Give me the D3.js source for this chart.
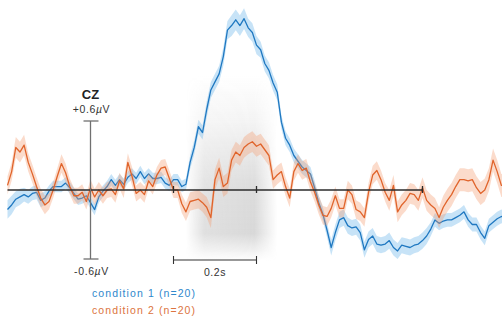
<!DOCTYPE html>
<html>
<head>
<meta charset="utf-8">
<script src="https://cdn.jsdelivr.net/npm/d3@7"></script>
<style>
  html, body { margin: 0; padding: 0; background: #fff; }
  svg { display: block; font-family: "Liberation Sans", Arial, sans-serif; }
</style>
</head>
<body>
<svg id="chart" width="502" height="324"></svg>
<script>
// ERP at electrode CZ, grand average (µV), one sample every 10 ms from -0.4 s
const tStart = -0.4;
const tStep = 0.01;

const cond1 = [
  -0.17, -0.13, -0.08, -0.06, -0.04, -0.06, -0.03, -0.02, -0.09, -0.07,
  -0.01, 0.03, 0.03, 0.03, 0.06, 0.02, -0.03, -0.08, -0.07, -0.05,
  -0.11, -0.17, -0.06, -0.01, 0.03, 0.09, 0.04, 0.09, 0.05, 0.11,
  0.14, 0.10, 0.16, 0.10, 0.14, 0.10, 0.10, 0.11, 0.06, 0.04,
  0.09, 0.09, 0.03, 0.05, 0.24, 0.37, 0.55, 0.50, 0.70, 0.87,
  0.94, 1.01, 1.16, 1.39, 1.43, 1.48, 1.43, 1.49, 1.41, 1.37,
  1.26, 1.22, 1.10, 1.04, 0.93, 0.85, 0.59, 0.45, 0.39, 0.30,
  0.25, 0.20, 0.17, 0.14, 0.02, -0.11, -0.21, -0.35, -0.50, -0.37,
  -0.26, -0.24, -0.31, -0.33, -0.32, -0.37, -0.52, -0.43, -0.40, -0.47,
  -0.48, -0.47, -0.44, -0.50, -0.53, -0.48, -0.49, -0.50, -0.48, -0.47,
  -0.44, -0.40, -0.34, -0.26, -0.29, -0.27, -0.26, -0.26, -0.24, -0.22,
  -0.19, -0.26, -0.30, -0.30, -0.37, -0.42, -0.31, -0.28, -0.25, -0.23,
  -0.24
];
const cond1Sem = [
  0.08, 0.08, 0.07, 0.07, 0.06, 0.06, 0.06, 0.06, 0.06, 0.06,
  0.05, 0.05, 0.05, 0.05, 0.05, 0.05, 0.05, 0.05, 0.05, 0.05,
  0.05, 0.05, 0.05, 0.05, 0.05, 0.05, 0.05, 0.05, 0.05, 0.05,
  0.05, 0.05, 0.05, 0.05, 0.05, 0.05, 0.05, 0.05, 0.05, 0.05,
  0.05, 0.05, 0.05, 0.05, 0.06, 0.06, 0.06, 0.06, 0.07, 0.07,
  0.07, 0.07, 0.08, 0.08, 0.09, 0.09, 0.09, 0.09, 0.08, 0.08,
  0.08, 0.07, 0.07, 0.07, 0.07, 0.07, 0.06, 0.06, 0.06, 0.06,
  0.06, 0.06, 0.06, 0.06, 0.06, 0.06, 0.06, 0.06, 0.07, 0.07,
  0.07, 0.07, 0.07, 0.07, 0.07, 0.07, 0.07, 0.07, 0.07, 0.07,
  0.07, 0.07, 0.07, 0.07, 0.07, 0.07, 0.07, 0.07, 0.07, 0.07,
  0.07, 0.07, 0.06, 0.06, 0.06, 0.06, 0.06, 0.06, 0.06, 0.06,
  0.06, 0.06, 0.06, 0.06, 0.06, 0.06, 0.06, 0.06, 0.06, 0.06,
  0.06
];
const cond2 = [
  0.04, 0.16, 0.37, 0.33, 0.39, 0.24, 0.14, 0.03, -0.07, -0.13,
  -0.10, 0.00, 0.12, 0.23, 0.15, 0.03, -0.05, -0.05, -0.02, -0.10,
  0.02, -0.06, 0.00, -0.05, 0.00, 0.01, -0.04, 0.08, 0.01, 0.24,
  0.12, -0.03, 0.00, -0.04, 0.08, 0.03, 0.13, 0.19, 0.20, 0.10,
  0.00, 0.00, -0.12, -0.19, -0.10, -0.09, -0.08, -0.11, -0.15, -0.24,
  0.09, 0.19, 0.03, 0.06, 0.26, 0.33, 0.30, 0.37, 0.40, 0.42,
  0.38, 0.40, 0.35, 0.30, 0.09, 0.13, 0.16, 0.03, -0.07, 0.16,
  0.23, 0.17, 0.19, 0.07, -0.02, -0.13, -0.22, -0.23, -0.16, -0.05,
  -0.16, -0.16, 0.00, -0.04, -0.17, -0.19, -0.24, -0.02, 0.13, 0.17,
  0.09, -0.02, -0.09, 0.04, -0.19, -0.13, -0.09, -0.03, -0.04, -0.09,
  0.02, -0.09, -0.13, -0.16, -0.24, -0.15, -0.09, -0.04, 0.03, 0.09,
  0.09, 0.08, 0.09, 0.02, -0.03, 0.00, 0.09, 0.26, 0.16, 0.04,
  0.04
];
const cond2Sem = [
  0.08, 0.08, 0.09, 0.09, 0.09, 0.08, 0.08, 0.08, 0.08, 0.08,
  0.07, 0.07, 0.07, 0.08, 0.08, 0.07, 0.07, 0.07, 0.07, 0.07,
  0.07, 0.07, 0.07, 0.07, 0.07, 0.07, 0.07, 0.07, 0.08, 0.08,
  0.08, 0.07, 0.07, 0.07, 0.07, 0.07, 0.07, 0.07, 0.07, 0.07,
  0.07, 0.07, 0.08, 0.08, 0.08, 0.08, 0.08, 0.08, 0.09, 0.09,
  0.09, 0.09, 0.09, 0.09, 0.09, 0.09, 0.09, 0.09, 0.09, 0.09,
  0.09, 0.09, 0.09, 0.09, 0.08, 0.08, 0.08, 0.08, 0.08, 0.08,
  0.08, 0.08, 0.08, 0.08, 0.08, 0.08, 0.08, 0.08, 0.08, 0.08,
  0.08, 0.08, 0.08, 0.08, 0.08, 0.08, 0.08, 0.08, 0.08, 0.08,
  0.08, 0.08, 0.09, 0.09, 0.09, 0.09, 0.09, 0.09, 0.09, 0.09,
  0.09, 0.09, 0.09, 0.09, 0.09, 0.10, 0.10, 0.10, 0.10, 0.10,
  0.10, 0.10, 0.10, 0.10, 0.10, 0.10, 0.10, 0.10, 0.10, 0.10,
  0.10
];

const sigWindow = [0.03, 0.25];     // shaded cluster (s)
const timeTicks = [0, 0.2, 0.6];
const ampTicks = [0.6, -0.6];
const scaleBar = [0, 0.2];
const channel = "CZ";
const legendLabels = ["condition 1 (n=20)", "condition 2 (n=20)"];

const colors = {
  line: ["#1f78c1", "#e0642b"],
  band: ["#63b2ea", "#f39a70"],
  text: ["#2f88cc", "#dc7440"]
};

const times = cond1.map((_, i) => tStart + i * tStep);
const series = [
  { mean: cond1, sem: cond1Sem },
  { mean: cond2, sem: cond2Sem }
];

const svg = d3.select("#chart");
const x = d3.scaleLinear().domain([-0.4, 0.8]).range([7.5, 505.5]);
const y = d3.scaleLinear().domain([-0.6, 0.6]).range([259, 121]);
const axisX = x(-0.2);

// gray shading for the significant window
const defs = svg.append("defs");
const gv = defs.append("linearGradient").attr("id", "sig-v")
  .attr("x1", 0).attr("y1", 0).attr("x2", 0).attr("y2", 1);
[[0, 0], [0.25, 0.1], [0.6, 0.3], [0.85, 0.33], [1, 0]].forEach(([o, a]) => {
  gv.append("stop").attr("offset", o).attr("stop-color", "#8a8a8a").attr("stop-opacity", a);
});
const gh = defs.append("linearGradient").attr("id", "sig-h")
  .attr("x1", 0).attr("y1", 0).attr("x2", 1).attr("y2", 0);
[[0, 0], [0.2, 0.8], [0.75, 1], [1, 0]].forEach(([o, a]) => {
  gh.append("stop").attr("offset", o).attr("stop-color", "#fff").attr("stop-opacity", a);
});
const sx0 = x(sigWindow[0]), sx1 = x(sigWindow[1]);
const sy0 = y(1.0), sy1 = y(-0.62);
defs.append("mask").attr("id", "sig-mask")
  .attr("maskUnits", "userSpaceOnUse")
  .append("rect")
  .attr("x", sx0).attr("y", sy0).attr("width", sx1 - sx0).attr("height", sy1 - sy0)
  .attr("fill", "url(#sig-h)");
svg.append("rect")
  .attr("x", sx0).attr("y", sy0).attr("width", sx1 - sx0).attr("height", sy1 - sy0)
  .attr("fill", "url(#sig-v)")
  .attr("mask", "url(#sig-mask)");

// bands + mean lines
series.forEach((s, k) => {
  const area = d3.area()
    .x((d, i) => x(times[i]))
    .y0((d, i) => y(d - s.sem[i]))
    .y1((d, i) => y(d + s.sem[i]));
  svg.append("path")
    .datum(s.mean)
    .attr("d", area)
    .attr("fill", colors.band[k])
    .attr("fill-opacity", 0.36);

  const line = d3.line()
    .x((d, i) => x(times[i]))
    .y((d) => y(d));
  svg.append("path")
    .datum(s.mean)
    .attr("d", line)
    .attr("fill", "none")
    .attr("stroke", colors.line[k])
    .attr("stroke-width", 1.3)
    .attr("stroke-linejoin", "round");
});

// zero line with time ticks
svg.append("line")
  .attr("x1", x(tStart)).attr("x2", x(0.6))
  .attr("y1", y(0)).attr("y2", y(0))
  .attr("stroke", "#2b2b2b").attr("stroke-width", 1.5);
timeTicks.forEach((t) => {
  svg.append("line")
    .attr("x1", x(t)).attr("x2", x(t))
    .attr("y1", y(0) - 4).attr("y2", y(0) + 3)
    .attr("stroke", "#2b2b2b").attr("stroke-width", 1.3);
});

// amplitude axis
svg.append("line")
  .attr("x1", axisX).attr("x2", axisX)
  .attr("y1", y(ampTicks[0])).attr("y2", y(ampTicks[1]))
  .attr("stroke", "#707070").attr("stroke-width", 1.3);
ampTicks.forEach((v) => {
  svg.append("line")
    .attr("x1", axisX - 7).attr("x2", axisX + 8)
    .attr("y1", y(v)).attr("y2", y(v))
    .attr("stroke", "#707070").attr("stroke-width", 1.3);
  const lbl = svg.append("text")
    .attr("x", axisX + 1)
    .attr("y", v > 0 ? y(v) - 8 : y(v) + 16)
    .attr("text-anchor", "middle")
    .attr("font-size", "10.5px")
    .attr("letter-spacing", "0.6px")
    .attr("fill", "#333");
  lbl.append("tspan").text((v > 0 ? "+" : "-") + Math.abs(v).toFixed(1));
  lbl.append("tspan").attr("font-style", "italic").text("\u00b5");
  lbl.append("tspan").text("V");
});

svg.append("text")
  .attr("x", axisX)
  .attr("y", 99)
  .attr("text-anchor", "middle")
  .attr("font-size", "13px")
  .attr("font-weight", "bold")
  .attr("fill", "#222")
  .text(channel);

// time scale bar
const barY = 260;
svg.append("line")
  .attr("x1", x(scaleBar[0])).attr("x2", x(scaleBar[1]))
  .attr("y1", barY).attr("y2", barY)
  .attr("stroke", "#333").attr("stroke-width", 1.1);
scaleBar.forEach((t) => {
  svg.append("line")
    .attr("x1", x(t)).attr("x2", x(t))
    .attr("y1", barY - 4).attr("y2", barY + 4)
    .attr("stroke", "#333").attr("stroke-width", 1.1);
});
svg.append("text")
  .attr("x", (x(scaleBar[0]) + x(scaleBar[1])) / 2)
  .attr("y", 276)
  .attr("text-anchor", "middle")
  .attr("font-size", "10.5px")
  .attr("letter-spacing", "0.6px")
  .attr("fill", "#333")
  .text((scaleBar[1] - scaleBar[0]).toFixed(1) + "s");

// legend
legendLabels.forEach((label, k) => {
  svg.append("text")
    .attr("x", 92)
    .attr("y", 297 + k * 17)
    .attr("font-size", "10.5px")
    .attr("letter-spacing", "1.1px")
    .attr("fill", colors.text[k])
    .text(label);
});
</script>
</body>
</html>
